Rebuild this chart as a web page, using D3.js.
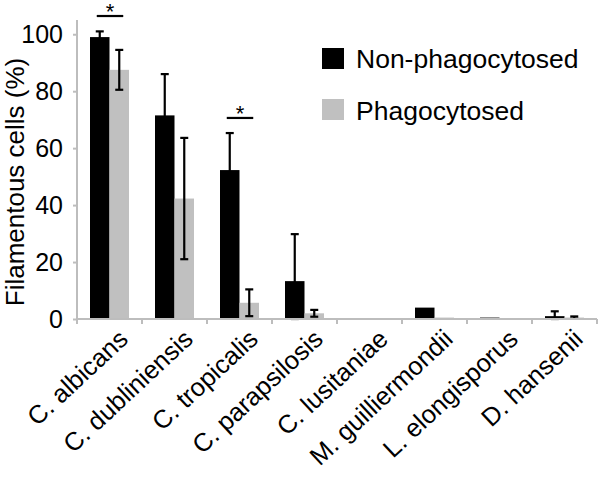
<!DOCTYPE html>
<html><head><meta charset="utf-8">
<script src="https://cdn.jsdelivr.net/npm/d3@7"></script>
<style>
html,body{margin:0;padding:0;background:#fff;}
text{font-family:"Liberation Sans",Arial,sans-serif;fill:#000;}
</style></head>
<body>
<svg id="chart" width="600" height="478"></svg>
<script>
const categories = ["C. albicans","C. dubliniensis","C. tropicalis","C. parapsilosis","C. lusitaniae","M. guilliermondii","L. elongisporus","D. hansenii"];
const seriesNames = ["Non-phagocytosed","Phagocytosed"];
const nonPhagocytosed = [99, 71.5, 52.3, 13.3, 0, 4, 0.5, 1];
const nonPhagocytosedErr = [2, 14.5, 13, 16.5, 0, 0, 0, 1.7];
const phagocytosed = [87.5, 42.3, 5.7, 2, 0, 0.5, 0, 0.5];
const phagocytosedErr = [7, 21.3, 4.7, 1.2, 0, 0, 0, 0.4];
const yTicks = [0,20,40,60,80,100];
const significance = [{cat:"C. albicans", level:106.4}, {cat:"C. tropicalis", level:70.6}];
const yTitle = "Filamentous cells (%)";

const svg = d3.select("#chart");
const y = d3.scaleLinear().domain([0,105]).range([319,20]);
const x = d3.scaleBand().domain(categories).range([77,597]);
const x1 = d3.scaleBand().domain(seriesNames).range([13,52]);
const colors = {"Non-phagocytosed":"#000000","Phagocytosed":"#c0c0c0"};
const axisColor = "#bdbdbd";

// bars
const data = [];
categories.forEach((c,i)=>{
  data.push({c, s:seriesNames[0], v:nonPhagocytosed[i], e:nonPhagocytosedErr[i]});
  data.push({c, s:seriesNames[1], v:phagocytosed[i], e:phagocytosedErr[i]});
});
svg.append("g").selectAll("rect").data(data).join("rect")
  .attr("x", d=>x(d.c)+x1(d.s))
  .attr("width", x1.bandwidth())
  .attr("y", d=>y(d.v))
  .attr("height", d=>y(0)-y(d.v))
  .attr("fill", d=>colors[d.s]);

// error bars
const eg = svg.append("g").attr("stroke","#000").attr("stroke-width",2.2);
data.filter(d=>d.e>0).forEach(d=>{
  const cx = x(d.c)+x1(d.s)+x1.bandwidth()/2;
  const lo = Math.max(0,d.v-d.e), hi = d.v+d.e;
  eg.append("line").attr("x1",cx).attr("x2",cx).attr("y1",y(lo)).attr("y2",y(hi));
  eg.append("line").attr("x1",cx-4).attr("x2",cx+4).attr("y1",y(hi)).attr("y2",y(hi));
  eg.append("line").attr("x1",cx-4).attr("x2",cx+4).attr("y1",y(lo)).attr("y2",y(lo));
});

// axes
const yAxis = svg.append("g").attr("transform","translate(77,0)")
  .call(d3.axisLeft(y).tickValues(yTicks).tickSize(4).tickPadding(10));
yAxis.select(".domain").attr("stroke",axisColor).attr("stroke-width",2).attr("d",`M0,${y(105)}V${y(0)}`);
yAxis.selectAll(".tick line").attr("stroke",axisColor).attr("stroke-width",2);
yAxis.selectAll(".tick text").style("font-size","25px").attr("font-family","Liberation Sans, Arial, sans-serif").attr("fill","#000");

const xAxisG = svg.append("g").attr("transform",`translate(0,${y(0)})`);
xAxisG.append("line").attr("x1",77).attr("x2",597).attr("stroke",axisColor).attr("stroke-width",2);
const bounds = categories.map(c=>x(c)).concat([x.range()[1]]);
xAxisG.selectAll(".sep").data(bounds).join("line").attr("class","sep")
  .attr("x1",d=>d).attr("x2",d=>d).attr("y1",0).attr("y2",5)
  .attr("stroke",axisColor).attr("stroke-width",2);
xAxisG.selectAll(".lbl").data(categories).join("text").attr("class","lbl")
  .attr("text-anchor","end")
  .attr("transform",d=>`translate(${x(d)+x.bandwidth()/2+20},${22}) rotate(-43)`)
  .style("font-size","25.5px")
  .text(d=>d);

// y title
svg.append("text").attr("transform","translate(24,182) rotate(-90)")
  .attr("text-anchor","middle").style("font-size","26px").text(yTitle);

// significance
significance.forEach(s=>{
  const xa = x(s.cat)+x1(seriesNames[0])+x1.bandwidth()/2-3;
  const xb = x(s.cat)+x1(seriesNames[1])+x1.bandwidth()/2+4;
  svg.append("line").attr("x1",xa).attr("x2",xb).attr("y1",y(s.level)).attr("y2",y(s.level))
    .attr("stroke","#000").attr("stroke-width",2.2);
  svg.append("text").attr("x",(xa+xb)/2).attr("y",y(s.level)+3).attr("text-anchor","middle")
    .style("font-size","22px").text("*");
});

// legend
const lg = svg.append("g");
seriesNames.forEach((s,i)=>{
  lg.append("rect").attr("x",322).attr("y",48+i*51).attr("width",22).attr("height",21).attr("fill",colors[s]);
  lg.append("text").attr("x",356).attr("y",68+i*52).style("font-size","26.5px").text(s);
});
</script>
</body></html>
